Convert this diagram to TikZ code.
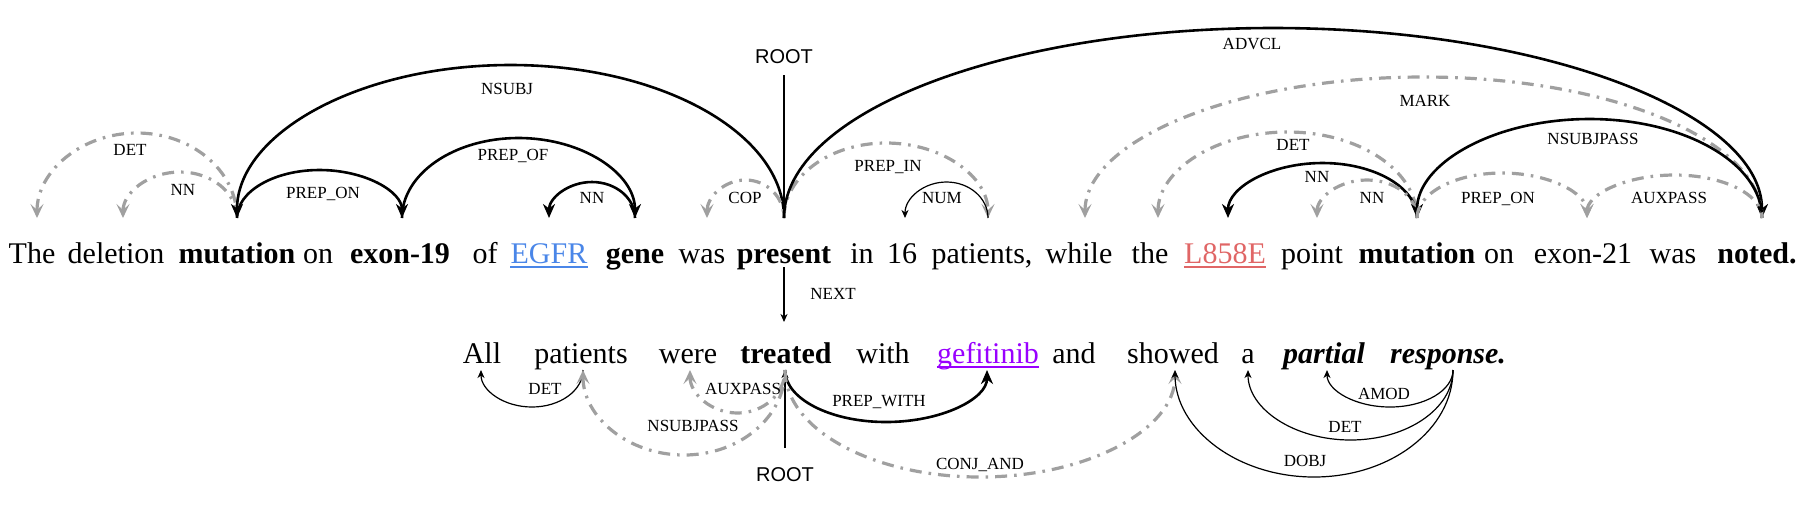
\documentclass[tikz,border=0pt]{standalone}
\usepackage{fontspec}
\setmainfont{Liberation Serif}
\newfontfamily\rootsans{Liberation Sans}
\usetikzlibrary{arrows.meta,calc}
\definecolor{arcgray}{RGB}{160,160,160}
\definecolor{egfrblue}{RGB}{74,134,232}
\definecolor{lred}{RGB}{224,102,102}
\definecolor{gefpurple}{RGB}{153,0,255}
\newcommand\uparc[4]{\draw[#1] let \p1=(#2), \p2=(#3), \n1={(\x2-\x1)/2}, \n2={(218-#4)*0.5pt} in (#2) arc[start angle=180, end angle=0, x radius=\n1, y radius=\n2];}
\newcommand\downarc[4]{\draw[#1] let \p1=(#2), \p2=(#3), \n1={(\x2-\x1)/2}, \n2={(#4-370)*0.5pt} in (#2) arc[start angle=180, end angle=360, x radius=\n1, y radius=\n2];}
\begin{document}
\begin{tikzpicture}[x=0.5pt,y=-0.5pt,
  word/.style={anchor=base,inner sep=0pt,font=\fontsize{15}{18}\selectfont},
  lbl/.style={anchor=base,inner sep=0pt,font=\fontsize{8.5}{10}\selectfont},
  rootlbl/.style={inner sep=0pt,font=\rootsans\fontsize{10}{12}\selectfont},
  blkarc/.style={line width=1.3pt,>={Stealth[length=7pt,width=6pt,inset=2.2pt]}},
  grayarc/.style={draw=arcgray,line width=1.6pt,dash pattern=on 6pt off 3.5pt on 1.3pt off 3.5pt,>={Stealth[length=7pt,width=6.5pt,inset=3pt]}},
  thinarc/.style={line width=0.6pt,>={Stealth[length=4pt,width=3.5pt,inset=1.2pt]}},
  rootline/.style={line width=0.8pt,>={Stealth[length=4pt,width=3.5pt,inset=1.2pt]}},
  uline/.style={line width=1.2pt}
]
\useasboundingbox (0,0) rectangle (1810,511);
% sentence 1 words
\node[word] (the1) at (32,263) {The};
\node[word] (deletion) at (116,263) {deletion};
\node[word] (mut1) at (237,263) {\bfseries mutation};
\node[word] (on1) at (318,263) {on};
\node[word] (exon19) at (400,263) {\bfseries exon-19};
\node[word] (of) at (485,263) {of};
\node[word,text=egfrblue] (egfr) at (549,263) {EGFR};
\node[word] (gene) at (635,263) {\bfseries gene};
\node[word] (was1) at (702,263) {was};
\node[word] (present) at (784,263) {\bfseries present};
\node[word] (in) at (862,263) {in};
\node[word] (sixteen) at (902,263) {16};
\node[word] (patients1) at (982,263) {patients,};
\node[word] (while) at (1079,263) {while};
\node[word] (the2) at (1150,263) {the};
\node[word,text=lred] (l858e) at (1225,263) {L858E};
\node[word] (point) at (1312,263) {point};
\node[word] (mut2) at (1417,263) {\bfseries mutation};
\node[word] (on2) at (1499,263) {on};
\node[word] (exon21) at (1583,263) {exon-21};
\node[word] (was2) at (1673,263) {was};
\node[word] (noted) at (1757,263) {\bfseries noted.};
\draw[uline,egfrblue] ([yshift=-2pt]egfr.base west) -- ([yshift=-2pt]egfr.base east);
\draw[uline,lred] ([yshift=-2pt]l858e.base west) -- ([yshift=-2pt]l858e.base east);
% sentence 2 words
\node[word] (all) at (482,363) {All};
\node[word] (patients2) at (581,363) {patients};
\node[word] (were) at (688,363) {were};
\node[word] (treated) at (786,363) {\bfseries treated};
\node[word] (with) at (883,363) {with};
\node[word,text=gefpurple] (gef) at (988,363) {gefitinib};
\node[word] (and) at (1074,363) {and};
\node[word] (showed) at (1173,363) {showed};
\node[word] (a) at (1248,363) {a};
\node[word] (partial) at (1324,363) {\bfseries\itshape partial};
\node[word] (response) at (1448,363) {\bfseries\itshape response.};
\draw[uline,gefpurple] ([yshift=-2pt]gef.base west) -- ([yshift=-2pt]gef.base east);
% attachment points
\coordinate (aThe) at (37,218);
\coordinate (aDeletion) at (123,218);
\coordinate (aMut1) at (237,218);
\coordinate (aExon19) at (402,218);
\coordinate (aEgfr) at (549,218);
\coordinate (aGene) at (635,218);
\coordinate (aWas1) at (707,218);
\coordinate (aPresent) at (784,218);
\coordinate (aSixteen) at (905,218);
\coordinate (aPatients) at (988,218);
\coordinate (aWhile) at (1085,218);
\coordinate (aThe2) at (1158,218);
\coordinate (aL858e) at (1228,218);
\coordinate (aPoint) at (1317,218);
\coordinate (aMut2) at (1417,218);
\coordinate (aExon21) at (1587,218);
\coordinate (aNoted) at (1762,218);
\coordinate (bAll) at (481,370);
\coordinate (bPatients) at (583,370);
\coordinate (bWere) at (690,370);
\coordinate (bTreated) at (785,370);
\coordinate (bGef) at (987,370);
\coordinate (bShowed) at (1175,370);
\coordinate (bA) at (1248,370);
\coordinate (bPartial) at (1327,370);
\coordinate (bResponse) at (1453,370);
% sentence 1 arcs
\uparc{grayarc,<-}{aThe}{aMut1}{133}
\uparc{grayarc,<-}{aDeletion}{aMut1}{172}
\uparc{blkarc,<-}{aMut1}{aPresent}{65}
\uparc{blkarc,->}{aMut1}{aExon19}{170}
\uparc{blkarc,->}{aExon19}{aGene}{138}
\uparc{blkarc,<-}{aEgfr}{aGene}{182}
\uparc{grayarc,<-}{aWas1}{aPresent}{180}
\uparc{grayarc,->}{aPresent}{aPatients}{143}
\uparc{thinarc,<-}{aSixteen}{aPatients}{182}
\uparc{blkarc,->}{aPresent}{aNoted}{28}
\uparc{grayarc,<-}{aWhile}{aNoted}{77}
\uparc{grayarc,<-}{aThe2}{aMut2}{132}
\uparc{blkarc,<-}{aL858e}{aMut2}{163}
\uparc{grayarc,<-}{aPoint}{aMut2}{180}
\uparc{blkarc,<-}{aMut2}{aNoted}{119}
\uparc{grayarc,->}{aMut2}{aExon21}{173}
\uparc{grayarc,<-}{aExon21}{aNoted}{175}
% sentence 1 labels
\node[lbl] (l1) at (130,155) {DET};
\node[lbl] (l2) at (183,195) {NN};
\node[lbl] (l3) at (507,94) {NSUBJ};
\node[lbl] (l4) at (323,198) {PREP\_ON};
\node[lbl] (l5) at (513,160) {PREP\_OF};
\node[lbl] (l6) at (592,203) {NN};
\node[lbl] (l7) at (745,203) {COP};
\node[lbl] (l8) at (888,171) {PREP\_IN};
\node[lbl] (l9) at (942,203) {NUM};
\node[lbl] (l10) at (1252,49) {ADVCL};
\node[lbl] (l11) at (1425,106) {MARK};
\node[lbl] (l12) at (1293,150) {DET};
\node[lbl] (l13) at (1317,182) {NN};
\node[lbl] (l14) at (1372,203) {NN};
\node[lbl] (l15) at (1593,144) {NSUBJPASS};
\node[lbl] (l16) at (1498,203) {PREP\_ON};
\node[lbl] (l17) at (1669,203) {AUXPASS};
% roots and next
\node[rootlbl] (root1) at (784,57) {ROOT};
\coordinate (r1top) at (784,75);
\draw[rootline] (r1top) -- (aPresent);
\coordinate (nextA) at (784,267);
\coordinate (nextB) at (784,322);
\draw[thinarc,->] (nextA) -- (nextB);
\node[lbl] (lnext) at (833,299) {NEXT};
\node[rootlbl] (root2) at (785,475) {ROOT};
\coordinate (r2bot) at (785,448);
\draw[rootline,->] (r2bot) -- (bTreated);
% sentence 2 arcs
\downarc{thinarc,<-}{bAll}{bPatients}{407}
\downarc{grayarc,<-}{bWere}{bTreated}{413}
\downarc{grayarc,<-}{bPatients}{bTreated}{455}
\downarc{blkarc,->}{bTreated}{bGef}{422}
\downarc{grayarc,->}{bTreated}{bShowed}{477}
\downarc{thinarc,<-}{bShowed}{bResponse}{477}
\downarc{thinarc,<-}{bA}{bResponse}{440}
\downarc{thinarc,<-}{bPartial}{bResponse}{407}
% sentence 2 labels
\node[lbl] (m1) at (545,394) {DET};
\node[lbl] (m2) at (743,394) {AUXPASS};
\node[lbl] (m3) at (693,431) {NSUBJPASS};
\node[lbl] (m4) at (879,406) {PREP\_WITH};
\node[lbl] (m5) at (980,469) {CONJ\_AND};
\node[lbl] (m6) at (1305,466) {DOBJ};
\node[lbl] (m7) at (1345,432) {DET};
\node[lbl] (m8) at (1384,399) {AMOD};
\end{tikzpicture}
\end{document}
